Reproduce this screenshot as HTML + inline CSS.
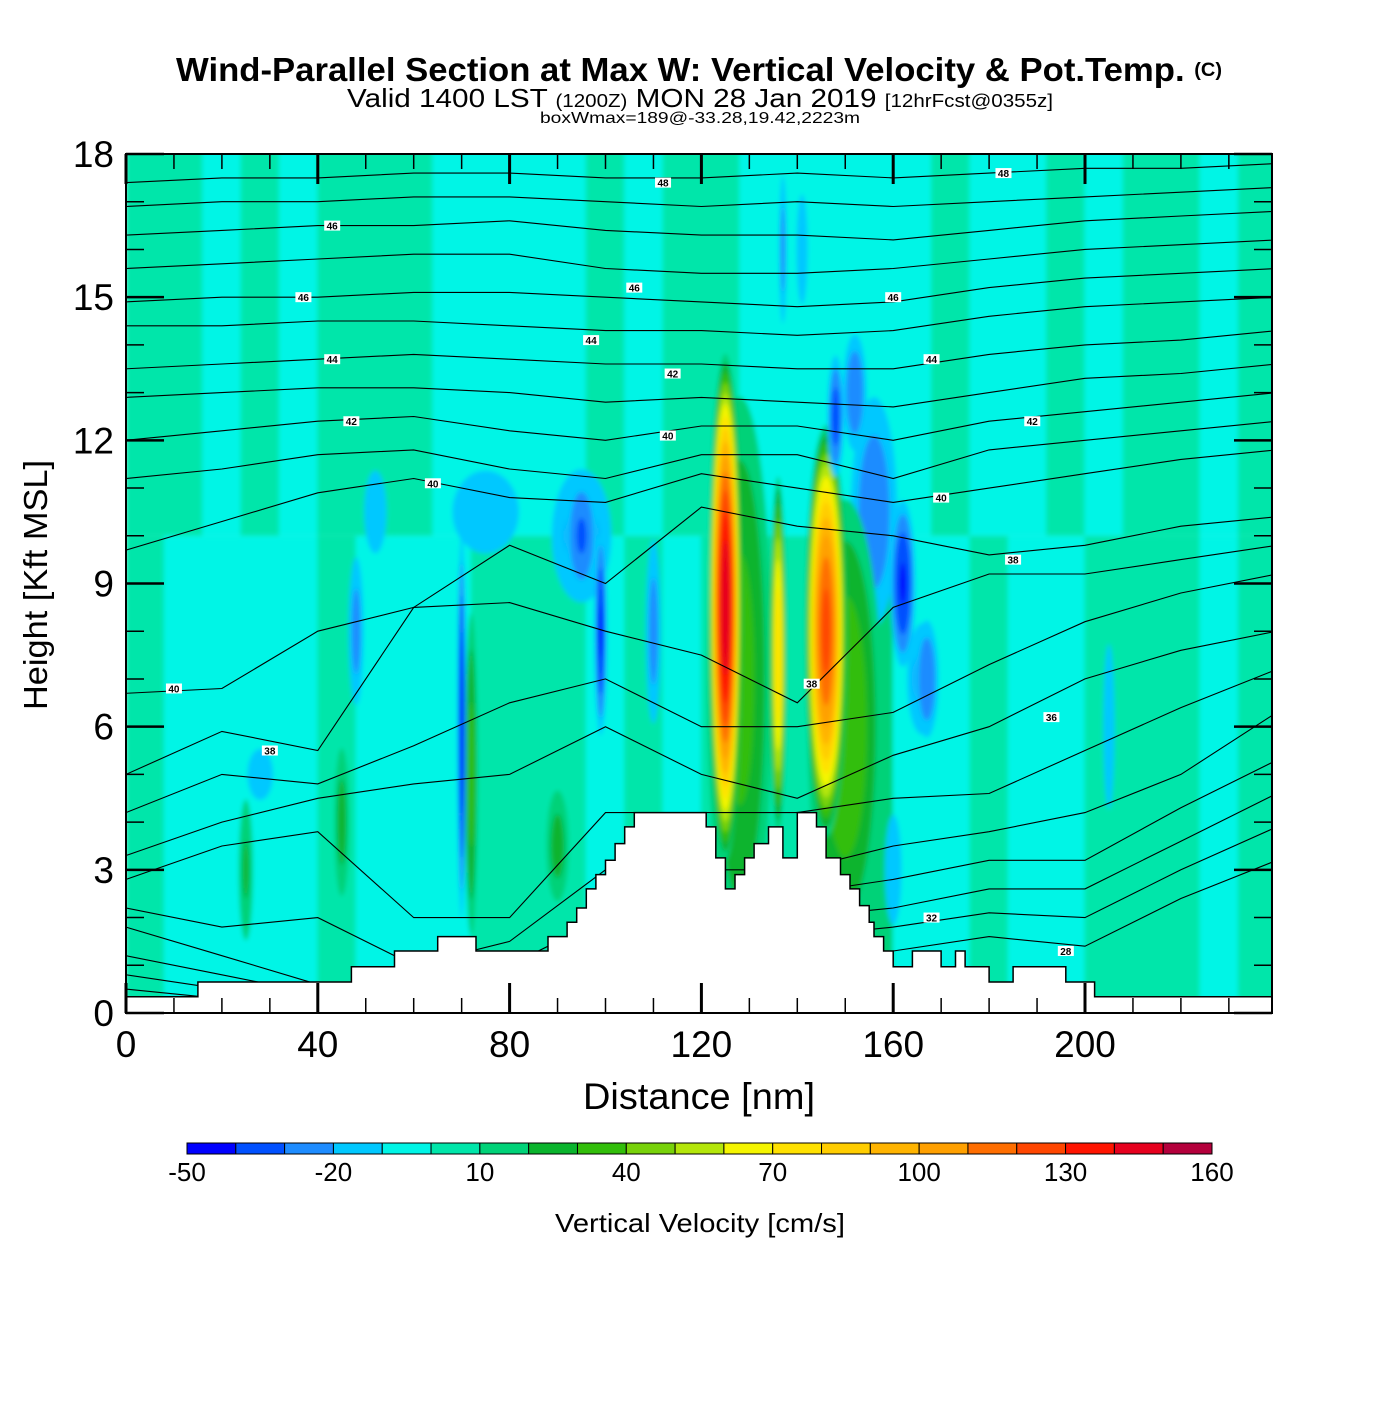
<!DOCTYPE html>
<html><head><meta charset="utf-8">
<style>
html,body{margin:0;padding:0;background:#fff;}
body{width:1400px;height:1400px;overflow:hidden;font-family:"Liberation Sans",Arial,sans-serif;}
svg text{font-family:"Liberation Sans",Arial,sans-serif;}
</style></head>
<body>
<svg id="chart" width="1400" height="1400" viewBox="0 0 1400 1400" xmlns="http://www.w3.org/2000/svg">
<rect x="0" y="0" width="1400" height="1400" fill="#fff"/>
<text x="176" y="81" font-size="33" font-weight="bold" textLength="1046" lengthAdjust="spacingAndGlyphs">Wind-Parallel Section at Max W: Vertical Velocity &amp; Pot.Temp. <tspan font-size="19" dy="-5">(C)</tspan></text>
<text x="347" y="107" font-size="26" textLength="706" lengthAdjust="spacingAndGlyphs">Valid 1400 LST <tspan font-size="18">(1200Z)</tspan> MON 28 Jan 2019 <tspan font-size="18">[12hrFcst@0355z]</tspan></text>
<text x="540" y="123" font-size="16" textLength="320" lengthAdjust="spacingAndGlyphs">boxWmax=189@-33.28,19.42,2223m</text>
<defs>
<clipPath id="plotclip"><rect x="126" y="154" width="1146" height="859"/></clipPath>
<filter id="soft" x="-5%" y="-5%" width="110%" height="110%"><feGaussianBlur stdDeviation="2.5"/></filter>
</defs>
<g clip-path="url(#plotclip)"><g id="field" filter="url(#soft)"></g></g>
<g id="lines" clip-path="url(#plotclip)"></g>
<g id="terrain" clip-path="url(#plotclip)"></g>
<g id="labels"></g>
<g id="axes"></g>
<g id="colorbar"></g>
<text x="699" y="1109" text-anchor="middle" font-size="37" textLength="232" lengthAdjust="spacingAndGlyphs">Distance [nm]</text>
<text transform="translate(47,585) rotate(-90)" text-anchor="middle" font-size="33" textLength="250" lengthAdjust="spacingAndGlyphs">Height [Kft MSL]</text>
<text x="700" y="1232" text-anchor="middle" font-size="26" textLength="290" lengthAdjust="spacingAndGlyphs">Vertical Velocity [cm/s]</text>
</svg>
<script>
// ---- data ----
const xTicks=[0,40,80,120,160,200];
const yTicks=[0,3,6,9,12,15,18];
const cbTicks=[-50,-20,10,40,70,100,130,160];
const levelColors=["#0000ff","#0050ff","#1e8cff","#00c8ff","#00f5e6","#00e6aa","#00d278","#0ab42d","#32be0a","#78d20a","#b4e60a","#f5f500","#ffe100","#ffcd00","#ffb400","#ffa000","#ff6e00","#ff4600","#ff1400","#e6001e","#b4003c"];
// column base values (8 nm wide columns), lower layer 0-10 kft and upper layer 10-18 kft
const lowerCols=[5,-5,-5,-5,-5,5,-5,-5,-5,5,5,5,-5,5,-5,5,5,5,5,15,-5,-5,5,-5,-5,5,5,5,-5,5];
const upperCols=[5,5,-5,5,-5,5,5,5,-5,-5,-5,-5,5,-5,5,5,-5,-5,-5,-5,-5,5,-5,-5,5,-5,5,5,-5,5];
// blobs: centre x (nm), centre y (kft), half-width (nm), half-height (kft), peak (cm/s)
const blobX=[75,95,156,152,166,141,52,128,150,125,136,146,72,45,25,90,70,99,95,162,167,148,137,110,48,28,205,160];
const blobY=[10.5,10,10.5,13,7,16,10.5,7,6,8.5,7.5,8,5,4,3,3.5,6,8,10,9,7,12.5,16,8,8,5,6,3];
const blobW=[12,8,6,3,4,2,4,8,9,3.5,1.8,4.5,1.6,2,2,3,1,1.5,4,3,3,2,1,2,2,4,2,3];
const blobH=[1.5,1.8,3,1.5,1.5,2,1.5,7,5.5,5.5,4,4.5,4,2,2,1.5,4.5,2.5,1.5,2,1.5,1.5,2,2.5,2,0.8,3,2];
const blobPeak=[-15,-25,-28,-30,-25,-15,-15,35,40,150,80,125,35,25,22,25,-48,-42,-32,-42,-30,-36,-25,-25,-25,-18,-15,-15];
// terrain steps: start x (nm), height (kft)
const terrX=[0,15,47,56,65,73,88,92,94,96,98,100,102,104,106,108,121,123,125,127,129,131,134,137,140,144,146,149,151,153,155,156,158,160,162,164,170,173,175,180,183,185,196,202,240];
const terrH=[0.34,0.65,0.97,1.3,1.6,1.3,1.6,1.9,2.2,2.6,2.9,3.2,3.55,3.9,4.2,4.2,3.9,3.25,2.6,2.9,3.25,3.55,3.9,3.25,4.2,3.9,3.25,2.9,2.6,2.25,1.9,1.6,1.3,0.97,0.97,1.3,0.97,1.3,0.97,0.65,0.65,0.97,0.65,0.34,0.34];
// isentrope nodes
const lineNodesX=[0,20,40,60,80,100,120,140,160,180,200,220,240];
const thetaLines=[
[17.4,17.5,17.5,17.6,17.6,17.5,17.5,17.6,17.5,17.6,17.7,17.7,17.8],
[16.9,17.0,17.0,17.1,17.1,17.0,16.9,17.0,16.9,17.0,17.1,17.2,17.3],
[16.3,16.4,16.5,16.5,16.6,16.4,16.3,16.3,16.2,16.4,16.6,16.7,16.8],
[15.6,15.7,15.8,15.9,15.9,15.6,15.5,15.5,15.6,15.8,16.0,16.1,16.2],
[14.9,15.0,15.0,15.1,15.1,15.0,14.9,14.8,14.9,15.2,15.4,15.5,15.6],
[14.4,14.4,14.5,14.5,14.4,14.3,14.3,14.2,14.3,14.6,14.8,14.9,15.0],
[13.5,13.6,13.7,13.8,13.7,13.6,13.6,13.5,13.5,13.8,14.0,14.1,14.3],
[12.9,13.0,13.1,13.1,13.0,12.8,12.9,12.8,12.7,13.0,13.3,13.4,13.6],
[12.0,12.2,12.4,12.5,12.2,12.0,12.3,12.3,12.0,12.4,12.6,12.8,13.0],
[11.2,11.4,11.7,11.8,11.4,11.2,11.7,11.7,11.2,11.8,12.0,12.2,12.4],
[9.7,10.3,10.9,11.2,10.8,10.7,11.3,11.0,10.7,11.0,11.3,11.6,11.8],
[6.7,6.8,8.0,8.5,9.8,9.0,10.6,10.2,10.0,9.6,9.8,10.2,10.4],
[5.0,5.9,5.5,8.5,8.6,8.0,7.5,6.5,8.5,9.2,9.2,9.5,9.8],
[4.2,5.0,4.8,5.6,6.5,7.0,6.0,6.0,6.3,7.3,8.2,8.8,9.2],
[3.3,4.0,4.5,4.8,5.0,6.0,5.0,4.5,5.4,6.0,7.0,7.6,8.0],
[2.8,3.5,3.8,2.0,2.0,4.2,4.2,4.2,4.5,4.6,5.5,6.4,7.2],
[2.2,1.8,2.0,1.0,1.5,3.0,3.0,3.0,3.5,3.8,4.2,5.0,6.3],
[1.8,1.2,0.6,0.5,1.0,2.0,2.5,2.5,2.8,3.2,3.2,4.3,5.3],
[1.2,0.8,0.4,0.3,0.6,1.6,2.0,2.0,2.2,2.6,2.6,3.6,4.6],
[0.8,0.5,0.3,0.3,0.4,1.2,1.6,1.6,1.8,2.1,2.0,3.0,3.9],
[0.5,0.3,0.2,0.2,0.3,0.8,1.2,1.2,1.3,1.6,1.4,2.4,3.2]
];
const labelX=[43,37,43,47,64,10,30,112,113,114,106,97,160,168,189,183,170,185,193,168,196,143];
const labelY=[16.5,15.0,13.7,12.4,11.1,6.8,5.5,17.4,12.1,13.4,15.2,14.1,15.0,13.7,12.4,17.6,10.8,9.5,6.2,2.0,1.3,6.9];
const labelTxt=["46","46","44","42","40","40","38","48","40","42","46","44","46","44","42","48","40","38","36","32","28","38"];

// ---- scales ----
const X0=126,X1=1272,Y0=1013,Y1=154;
const xs=v=>X0+v*4.795;
const ys=v=>Y0-(v/18)*(Y0-Y1);
const NS="http://www.w3.org/2000/svg";
function mk(tag,attrs,parent){const e=document.createElementNS(NS,tag);for(const k in attrs)e.setAttribute(k,attrs[k]);parent.appendChild(e);return e;}
function colorOf(v){let i=Math.floor((v+50)/10);i=Math.max(0,Math.min(20,i));return levelColors[i];}

const field=document.getElementById('field');
lowerCols.forEach((v,i)=>{
  const r=mk('rect',{x:xs(i*8)-0.5,y:ys(10),width:xs(8)-xs(0)+1,height:ys(0)-ys(10)+10,fill:colorOf(v)},field);
  
  
});
upperCols.forEach((v,i)=>{
  const r=mk('rect',{x:xs(i*8)-0.5,y:ys(18)-10,width:xs(8)-xs(0)+1,height:ys(10)-ys(18)+10,fill:colorOf(v)},field);
  
  
});
blobPeak.forEach((p,i)=>{
  const levels=[];
  if(p>0){for(let L=10;L<p;L+=10)levels.push(L);}
  else{for(let L=-10;L>p;L-=10)levels.push(L);}
  levels.forEach(L=>{
    const s=Math.sqrt(1-L/p);
    const e=mk('ellipse',{cx:xs(blobX[i]),cy:ys(blobY[i]),rx:(xs(blobW[i])-xs(0))*s,ry:(ys(0)-ys(blobH[i]))*s,fill:colorOf(p>0?L+5:L-5)},field);
    
    
  });
});
const lines=document.getElementById('lines');
thetaLines.forEach(arr=>{
  const pts=arr.map((h,j)=>xs(lineNodesX[j]).toFixed(1)+','+ys(h).toFixed(1)).join(' ');
  const pl=mk('polyline',{points:pts,fill:'none',stroke:'#000','stroke-width':1.1},lines);
  
  
});
const terr=document.getElementById('terrain');
let d='M'+xs(0)+','+ys(0);
for(let i=0;i<terrX.length;i++){
  d+=' L'+xs(terrX[i]).toFixed(1)+','+ys(terrH[i]).toFixed(1);
  const nx=i+1<terrX.length?terrX[i+1]:240;
  d+=' L'+xs(nx).toFixed(1)+','+ys(terrH[i]).toFixed(1);
}
d+=' L'+xs(240)+','+ys(0)+' Z';
const tp=mk('path',{d:d,fill:'#fff',stroke:'#000','stroke-width':1.5},terr);


const lab=document.getElementById('labels');
labelTxt.forEach((t,i)=>{
  const cx=xs(labelX[i]),cy=ys(labelY[i]);
  const r=mk('rect',{x:cx-8,y:cy-5,width:16,height:10,fill:'#fff'},lab);
  
  
  const tx=mk('text',{x:cx,y:cy+4,'text-anchor':'middle','font-size':10,'font-weight':'bold'},lab);
  tx.textContent=t;
  
  
});
const ax=document.getElementById('axes');
const fr=mk('rect',{x:X0,y:Y1,width:X1-X0,height:Y0-Y1,fill:'none',stroke:'#000','stroke-width':2},ax);


for(let v=0;v<=238;v+=10){
  const major=v%40===0;const len=major?30:15;const w=major?3:1.5;
  const t1=mk('line',{x1:xs(v),x2:xs(v),y1:Y0,y2:Y0-len,stroke:'#000','stroke-width':w},ax);
  
  
  const t2=mk('line',{x1:xs(v),x2:xs(v),y1:Y1,y2:Y1+len,stroke:'#000','stroke-width':w},ax);
  
  
}
for(let v=0;v<=18;v+=1){
  const major=v%3===0;const len=major?38:18;const w=major?2.5:1.5;
  const t1=mk('line',{x1:X0,x2:X0+len,y1:ys(v),y2:ys(v),stroke:'#000','stroke-width':w},ax);
  
  
  const t2=mk('line',{x1:X1,x2:X1-len,y1:ys(v),y2:ys(v),stroke:'#000','stroke-width':w},ax);
  
  
}
xTicks.forEach(v=>{
  const t=mk('text',{x:xs(v),y:1057,'text-anchor':'middle','font-size':37},ax);
  t.textContent=v;
  
  
});
yTicks.forEach(v=>{
  const t=mk('text',{x:114,y:ys(v)+13,'text-anchor':'end','font-size':37},ax);
  t.textContent=v;
  
  
});
const cb=document.getElementById('colorbar');
const CB0=187,CB1=1212,cw=(CB1-CB0)/21;
levelColors.forEach((c,i)=>{
  const r=mk('rect',{x:CB0+i*cw,y:1143,width:cw,height:11,fill:c,stroke:'#000','stroke-width':1},cb);
  
  
});
cbTicks.forEach(v=>{
  const t=mk('text',{x:CB0+(v+50)/10*cw,y:1181,'text-anchor':'middle','font-size':26},cb);
  t.textContent=v;
  
  
});
</script>
</body></html>
